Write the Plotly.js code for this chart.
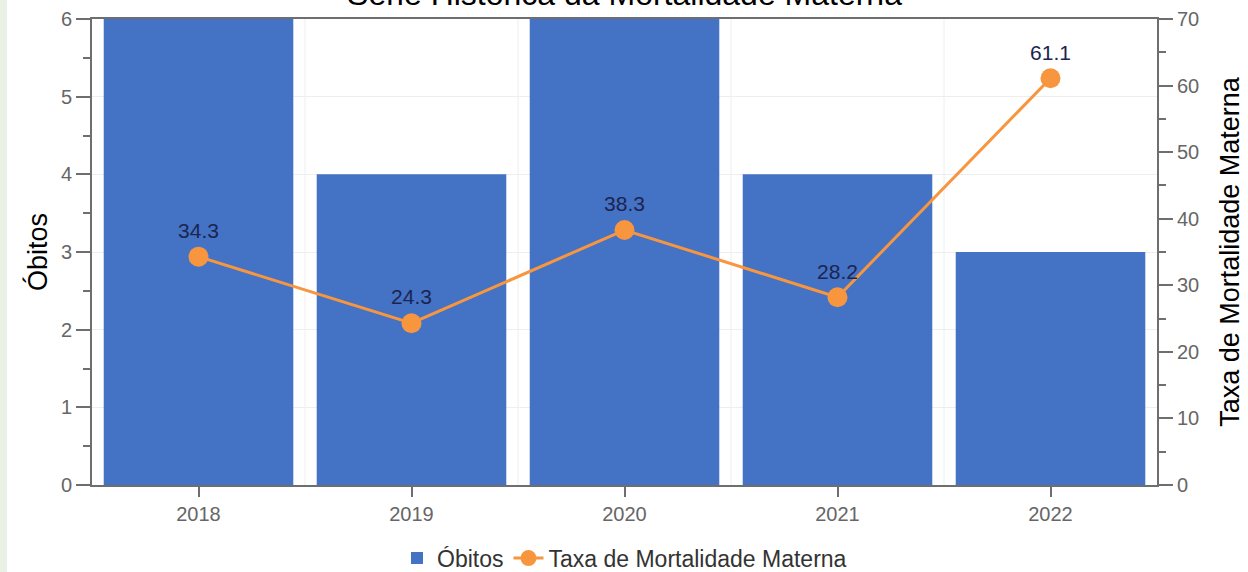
<!DOCTYPE html>
<html>
<head>
<meta charset="utf-8">
<script src="https://cdn.plot.ly/plotly-3.0.1.min.js"></script>
<style>
  html, body { margin: 0; padding: 0; width: 1248px; height: 572px; overflow: hidden;
    background: linear-gradient(to right, #e9f1e4 0px, #e9f1e4 7px, #ffffff 7px, #ffffff 100%); }
  #chart { width: 1248px; height: 572px; }
</style>
</head>
<body>
<div id="chart"></div>
<script>
const years = ['2018', '2019', '2020', '2021', '2022'];
const obitos = [6, 4, 6, 4, 3];
const taxa = [34.3, 24.3, 38.3, 28.2, 61.1];
const taxaLabels = ['34.3', '24.3', '38.3', '28.2', '61.1'];

const chartTitle = 'Série Histórica da Mortalidade Materna';
const leftTitle = 'Óbitos';
const rightTitle = 'Taxa de Mortalidade Materna';

const sans = '"Liberation Sans", Arial, sans-serif';

const traces = [
  {
    type: 'bar', name: 'Óbitos', x: years, y: obitos,
    marker: { color: '#4472C4' }, hoverinfo: 'x+y'
  },
  {
    type: 'scatter', mode: 'lines+markers+text', name: 'Taxa de Mortalidade Materna',
    x: years, y: taxa, yaxis: 'y2',
    text: taxaLabels, textposition: 'top center',
    textfont: { family: sans, size: 21, color: '#1c2450' },
    line: { color: '#F7963F', width: 3 },
    marker: { color: '#F7963F', size: 20 }
  }
];

const boundaryShapes = years.slice(0, -1).map((_, i) => ({
  type: 'line', xref: 'x', yref: 'paper', x0: i + 0.5, x1: i + 0.5, y0: 0, y1: 1,
  line: { color: '#eeeeee', width: 1 }, layer: 'below'
}));

const layout = {
  width: 1248, height: 572,
  margin: { l: 92, r: 91, t: 19, b: 87, autoexpand: false },
  paper_bgcolor: 'rgba(0,0,0,0)',
  plot_bgcolor: '#ffffff',
  bargap: 0.11,
  showlegend: true,
  title: {
    text: chartTitle, x: 0.5, xanchor: 'center', xref: 'paper',
    y: 1 - 5 / 572, yref: 'container', yanchor: 'bottom',
    font: { family: sans, size: 32, color: '#000000' }
  },
  xaxis: {
    type: 'category', automargin: false,
    showline: true, linecolor: '#6e6e6e', linewidth: 2, mirror: true,
    ticks: 'outside', ticklen: 10, tickwidth: 2, tickcolor: '#6e6e6e',
    showgrid: false, zeroline: false,
    tickfont: { family: sans, size: 20, color: '#666666' }
  },
  yaxis: {
    range: [0, 6], dtick: 1, automargin: false,
    showline: true, linecolor: '#6e6e6e', linewidth: 2,
    ticks: 'outside', ticklen: 14, tickwidth: 2, tickcolor: '#6e6e6e',
    minor: { ticks: 'outside', ticklen: 7, tickwidth: 2, tickcolor: '#6e6e6e', dtick: 0.5, showgrid: false },
    showgrid: true, gridcolor: '#eeeeee', gridwidth: 1, zeroline: false,
    tickfont: { family: sans, size: 20, color: '#666666' },
    title: { text: leftTitle, font: { family: sans, size: 27, color: '#000000' }, standoff: 5 }
  },
  yaxis2: {
    range: [0, 70], dtick: 10, overlaying: 'y', side: 'right', automargin: false,
    showline: true, linecolor: '#6e6e6e', linewidth: 2,
    ticks: 'outside', ticklen: 14, tickwidth: 2, tickcolor: '#6e6e6e',
    minor: { ticks: 'outside', ticklen: 7, tickwidth: 2, tickcolor: '#6e6e6e', dtick: 5, showgrid: false },
    showgrid: false, zeroline: false,
    tickfont: { family: sans, size: 20, color: '#666666' },
    title: { text: rightTitle, font: { family: sans, size: 27, color: '#000000' }, standoff: 22 }
  },
  legend: {
    orientation: 'h', x: 0.5, xanchor: 'center', y: -0.157, yanchor: 'middle',
    font: { family: sans, size: 23, color: '#333333' },
    bgcolor: 'rgba(0,0,0,0)', itemwidth: 30
  },
  shapes: boundaryShapes
};

Plotly.newPlot('chart', traces, layout, { displayModeBar: false, responsive: false });
</script>
</body>
</html>
